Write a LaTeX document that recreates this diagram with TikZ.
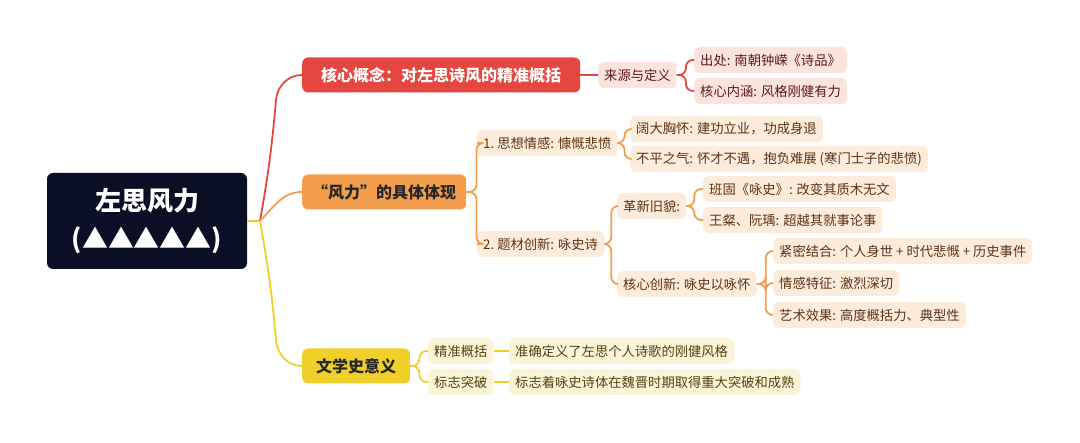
\documentclass[tikz,border=0pt]{standalone}
\usepackage{fontspec}
\setmainfont{Noto Sans CJK SC}
\definecolor{rootc}{HTML}{0B0F26}
\definecolor{redc}{HTML}{E5463F}
\definecolor{orac}{HTML}{F29E4C}
\definecolor{yelc}{HTML}{EFD02A}
\definecolor{redl}{HTML}{FBE3DE}
\definecolor{oral}{HTML}{FDEBDB}
\definecolor{yell}{HTML}{FBF4D8}
\definecolor{redt}{HTML}{5E1A1A}
\definecolor{orat}{HTML}{5A3414}
\definecolor{yelt}{HTML}{4F4410}
\tikzset{
 lone/.style={anchor=west,rounded corners=6pt,minimum height=35pt,inner xsep=10pt,font=\fontsize{16}{19}\selectfont\bfseries},
 leaf/.style={anchor=west,rounded corners=5pt,minimum height=26pt,inner xsep=6pt,font=\fontsize{13.3}{16}\selectfont},
 rleaf/.style={leaf,fill=redl,text=redt},
 oleaf/.style={leaf,fill=oral,text=orat},
 yleaf/.style={leaf,fill=yell,text=yelt},
 edge/.style={line width=1.8pt,rounded corners=7pt},
 redge/.style={line width=1.8pt},
}
\begin{document}
\begin{tikzpicture}[x=1pt,y=-1pt]
\useasboundingbox (0,0) rectangle (1080,443);
\node[fill=rootc,rounded corners=6pt,minimum width=200pt,minimum height=96pt,text=white,align=center,font=\fontsize{26}{38}\selectfont\bfseries] (root) at (147,221) {左思风力\\(▲▲▲▲▲)};
\node[lone,fill=redc,text=white,minimum width=278pt] (a) at (302,75) {核心概念：对左思诗风的精准概括};
\node[lone,fill=orac,text=black!85,minimum width=155pt] (b) at (302,192) {“风力”的具体体现};
\node[lone,fill=yelc,text=black!85,minimum width=108pt] (c) at (302,366) {文学史意义};
\node[rleaf] (a1) at (598,75) {来源与定义};
\node[rleaf,minimum width=147pt] (a11) at (694,60) {出处: 南朝钟嵘《诗品》};
\node[rleaf,minimum width=147pt] (a12) at (694,91) {核心内涵: 风格刚健有力};
\node[oleaf] (b1) at (477,143) {1.\ 思想情感: 慷慨悲愤};
\node[oleaf] (b2) at (477,244) {2.\ 题材创新: 咏史诗};
\node[oleaf] (b11) at (630,129) {阔大胸怀: 建功立业，功成身退};
\node[oleaf] (b12) at (630,159) {不平之气: 怀才不遇，抱负难展 (寒门士子的悲愤)};
\node[oleaf] (b21) at (617,206) {革新旧貌:};
\node[oleaf] (b22) at (617,284) {核心创新: 咏史以咏怀};
\node[oleaf] (b211) at (703,189) {班固《咏史》: 改变其质木无文};
\node[oleaf] (b212) at (703,220) {王粲、阮瑀: 超越其就事论事};
\node[oleaf] (b221) at (773,251) {紧密结合: 个人身世 + 时代悲慨 + 历史事件};
\node[oleaf] (b222) at (773,283) {情感特征: 激烈深切};
\node[oleaf] (b223) at (773,315) {艺术效果: 高度概括力、典型性};
\node[yleaf] (c1) at (428,351) {精准概括};
\node[yleaf] (c2) at (428,382) {标志突破};
\node[yleaf] (c11) at (509,351) {准确定义了左思个人诗歌的刚健风格};
\node[yleaf] (c21) at (509,382) {标志着咏史诗体在魏晋时期取得重大突破和成熟};
% root edges
\draw[redge,yelc] (root.east) -- (260,221);
\draw[redge,redc] (260,221) to[out=80,in=-95] (276,100) to[out=85,in=180] (a.west);
\draw[redge,orac] (260,221) to[out=45,in=180] (b.west);
\draw[redge,yelc] (260,221) to[out=-80,in=95] (276,340) to[out=-85,in=180] (c.west);
% red
\draw[edge,redc] (a.east) -- (a1.west);
\draw[edge,redc] (a1.east) -- ++(9,0) |- (a11.west);
\draw[edge,redc] (a1.east) -- ++(9,0) |- (a12.west);
% orange
\draw[edge,orac] (b.east) -- ++(10,0) |- (b1.west);
\draw[edge,orac] (b.east) -- ++(10,0) |- (b2.west);
\draw[edge,orac] (b1.east) -- ++(7,0) |- (b11.west);
\draw[edge,orac] (b1.east) -- ++(7,0) |- (b12.west);
\draw[edge,orac] (b2.east) -- ++(7,0) |- (b21.west);
\draw[edge,orac] (b2.east) -- ++(7,0) |- (b22.west);
\draw[edge,orac] (b21.east) -- ++(8,0) |- (b211.west);
\draw[edge,orac] (b21.east) -- ++(8,0) |- (b212.west);
\draw[edge,orac] (b22.east) -- ++(9,0) |- (b221.west);
\draw[edge,orac] (b22.east) -- ++(9,0) |- (b222.west);
\draw[edge,orac] (b22.east) -- ++(9,0) |- (b223.west);
% yellow
\draw[edge,yelc] (c.east) -- ++(9,0) |- (c1.west);
\draw[edge,yelc] (c.east) -- ++(9,0) |- (c2.west);
\draw[edge,yelc] (c1.east) -- (c11.west);
\draw[edge,yelc] (c2.east) -- (c21.west);
\end{tikzpicture}
\end{document}
